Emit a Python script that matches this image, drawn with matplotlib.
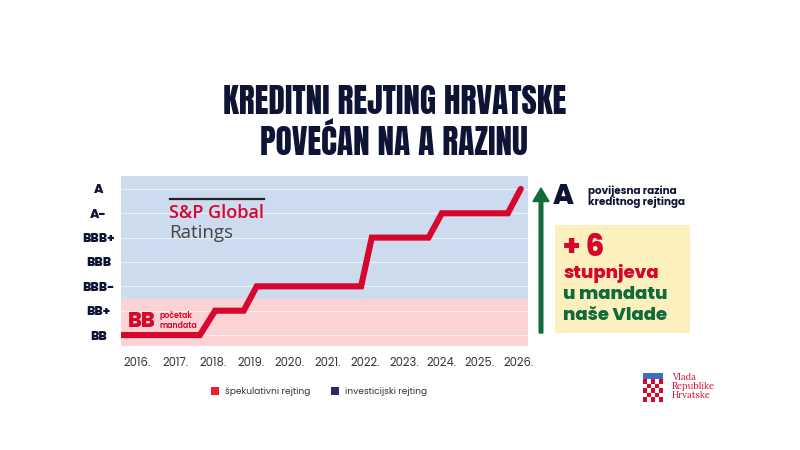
import matplotlib
matplotlib.use("Agg")
import matplotlib.pyplot as plt
import numpy as np
from matplotlib.patches import Rectangle, FancyArrow

# data
ratings = ["BB", "BB+", "BBB-", "BBB", "BBB+", "A-", "A"]
year_ticks = list(range(2016, 2027))
year_labels = [f"{y}." for y in year_ticks]
line_years = [2015.6, 2017.65, 2018.05, 2018.8, 2019.14, 2021.88, 2022.16,
              2023.65, 2024.0, 2025.73, 2026.07]
line_levels = [0, 0, 1, 1, 2, 2, 4, 4, 5, 5, 6]
spec_limit = 1.5  # between BB+ and BBB-

NAVY = "#0e1435"
RED = "#d6062c"
GREEN = "#0f6b3a"
BLUE_BG = "#cddbee"
PINK_BG = "#fbd3d5"
TEXT = ["Poppins", "Open Sans", "DejaVu Sans"]
TITLE_FONT = ["Anton", "Bebas Neue", "Oswald", "DejaVu Sans"]
SERIF = ["Lora", "Liberation Serif", "DejaVu Serif"]

W, H = 800, 450
fig = plt.figure(figsize=(8, 4.5), dpi=100)


def fx(px):
    return px / W


def fy(py):
    return 1 - py / H


ax = fig.add_axes([fx(121), fy(346), fx(528) - fx(121), fy(176) - fy(346)])
ymin, ymax = -0.45, 6.53
ax.set_xlim(2015.58, 2026.26)
ax.set_ylim(ymin, ymax)
ax.axhspan(ymin, spec_limit, color=PINK_BG, lw=0)
ax.axhspan(spec_limit, ymax, color=BLUE_BG, lw=0)
for lvl in range(len(ratings)):
    ax.axhline(lvl, color="white", lw=0.8, alpha=0.6, zorder=1)
ax.plot(line_years, line_levels, color=RED, lw=4.4, solid_capstyle="round",
        solid_joinstyle="miter", zorder=3)

for s in ax.spines.values():
    s.set_visible(False)
ax.set_yticks(range(len(ratings)))
ax.set_yticklabels(ratings, family=TEXT, fontweight="heavy", fontsize=9,
                   color=NAVY, ha="center")
ax.tick_params(axis="y", length=0, pad=16)
ax.set_xticks(year_ticks)
ax.set_xticklabels(year_labels, family=TEXT, fontsize=8.3, color="#3a3a3a")
ax.tick_params(axis="x", length=0, pad=8)

# S&P logo
fig.add_artist(plt.Line2D([fx(170), fx(264)], [fy(199), fy(199)],
                          color="#222222", lw=1.6))
fig.text(fx(169), fy(213), "S&P Global", family=["Open Sans", "DejaVu Sans"],
         fontweight="semibold", fontsize=13, color=RED, va="center",
         ha="left")
fig.text(fx(169), fy(233), "Ratings", family=["Open Sans", "DejaVu Sans"],
         fontsize=13.5, color="#444444", va="center", ha="left")

# BB start label
fig.text(fx(128), fy(322), "BB", family=TEXT, fontweight="heavy",
         fontsize=15, color=RED, va="center", ha="left")
fig.text(fx(160), fy(316), "početak", family=TEXT, fontweight="semibold",
         fontsize=5.7, color=RED, va="center", ha="left")
fig.text(fx(160), fy(325), "mandata", family=TEXT, fontweight="semibold",
         fontsize=5.7, color=RED, va="center", ha="left")

# title
fig.text(fx(395), fy(102), "KREDITNI REJTING HRVATSKE", family=TITLE_FONT,
         fontweight="bold", fontsize=24, color=NAVY, ha="center",
         va="center")
fig.text(fx(394), fy(141), "POVEĆAN NA A RAZINU", family=TITLE_FONT,
         fontweight="bold", fontsize=24, color=NAVY, ha="center",
         va="center")

# green arrow
fig.add_artist(FancyArrow(fx(541), fy(333), 0, fy(188) - fy(333),
                          width=0.0045, head_width=0.02, head_length=0.03,
                          length_includes_head=True, color=GREEN,
                          transform=fig.transFigure))

fig.text(fx(553), fy(197), "A", family=TEXT, fontweight="heavy",
         fontsize=20, color=NAVY, ha="left", va="center")
fig.text(fx(588), fy(191), "povijesna razina", family=TEXT,
         fontweight="bold", fontsize=7.5, color=NAVY, ha="left", va="center")
fig.text(fx(588), fy(202), "kreditnog rejtinga", family=TEXT,
         fontweight="bold", fontsize=7.5, color=NAVY, ha="left", va="center")

fig.add_artist(Rectangle((fx(555), fy(333)), fx(690) - fx(555),
                         fy(225) - fy(333), color="#fdf0bf", lw=0,
                         transform=fig.transFigure))
fig.text(fx(563), fy(249), "+ 6", family=TEXT, fontweight="heavy",
         fontsize=21, color=RED, ha="left", va="center")
fig.text(fx(563), fy(274), "stupnjeva", family=TEXT, fontweight="heavy",
         fontsize=13, color=RED, ha="left", va="center")
fig.text(fx(563), fy(295), "u mandatu", family=TEXT, fontweight="heavy",
         fontsize=13, color=GREEN, ha="left", va="center")
fig.text(fx(563), fy(316), "naše Vlade", family=TEXT, fontweight="heavy",
         fontsize=13, color=GREEN, ha="left", va="center")

# legend
for x0, col, lab in [(211, "#ee1c2e", "špekulativni rejting"),
                     (331, "#2b2a6b", "investicijski rejting")]:
    fig.add_artist(Rectangle((fx(x0), fy(395)), fx(8), fy(0) - fy(8),
                             color=col, lw=0, transform=fig.transFigure))
    fig.text(fx(x0 + 14), fy(391), lab, family=TEXT, fontsize=6.5,
             color="#333333", ha="left", va="center")

# government logo
cax = fig.add_axes([fx(643), fy(402), fx(20), fy(379) - fy(402)])
board = np.indices((5, 5)).sum(axis=0) % 2
cax.imshow(board, cmap=matplotlib.colors.ListedColormap([RED, "white"]),
           interpolation="nearest", aspect="auto")
cax.axis("off")
fig.add_artist(Rectangle((fx(643), fy(379)), fx(20), fy(373) - fy(379),
                         color="#3a6fc4", lw=0, transform=fig.transFigure))
for i, word in enumerate(["Vlada", "Republike", "Hrvatske"]):
    fig.text(fx(672), fy(378 + 8.7 * i), word, family=SERIF,
             fontsize=6.8, color=RED, ha="left", va="center")

fig.savefig("out.png", dpi=100)
